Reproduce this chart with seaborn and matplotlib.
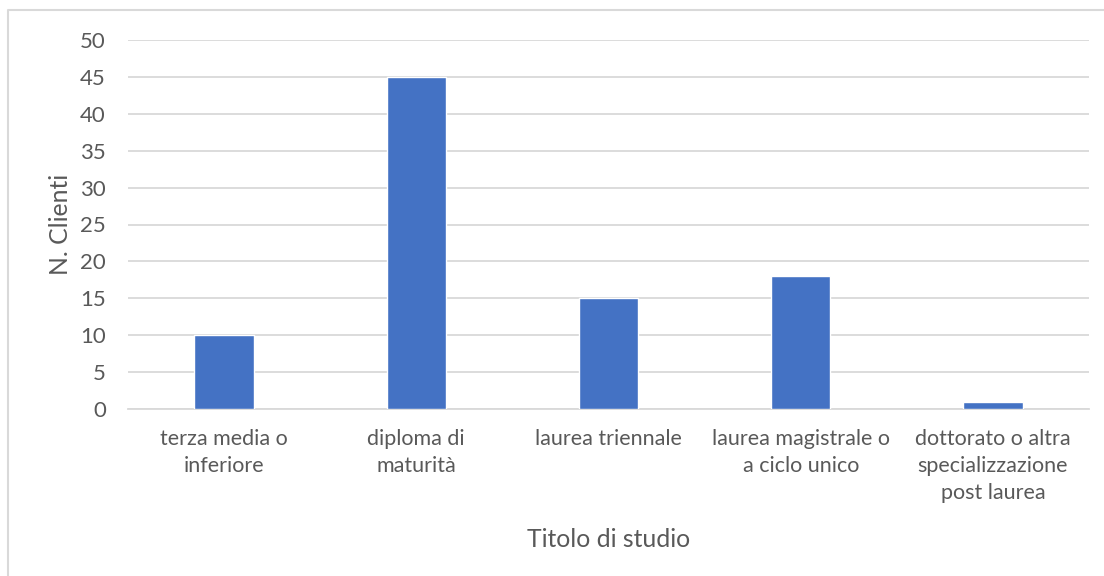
import matplotlib
matplotlib.use("Agg")
import matplotlib.pyplot as plt
import seaborn as sns
import pandas as pd
from matplotlib.lines import Line2D

# Education level of customers
categories = [
    "terza media o\ninferiore",
    "diploma di\nmaturità",
    "laurea triennale",
    "laurea magistrale o\na ciclo unico",
    "dottorato o altra\nspecializzazione\npost laurea",
]
clienti = [10, 45, 15, 18, 1]
y_ticks = [0, 5, 10, 15, 20, 25, 30, 35, 40, 45, 50]

df = pd.DataFrame({"titolo": categories, "clienti": clienti})

sns.set_theme(style="white")
plt.rcParams["font.family"] = ["Lato", "DejaVu Sans"]

text_color = "#595959"
grid_color = "#D9D9D9"
bar_color = "#4472C4"

fig = plt.figure(figsize=(11.04, 5.76), dpi=100)
ax = fig.add_axes([128 / 1104, 1 - 409 / 576, 961 / 1104, 369 / 576])

sns.barplot(data=df, x="titolo", y="clienti", color=bar_color,
            width=0.31, saturation=1, ax=ax, zorder=3)

ax.set_ylim(0, 50)
ax.set_yticks(y_ticks)
ax.set_xlim(-0.5, len(categories) - 0.5)
ax.yaxis.grid(True, color=grid_color, linewidth=1.3, zorder=0)
ax.set_axisbelow(True)
for side in ["top", "right", "left"]:
    ax.spines[side].set_visible(False)
ax.spines["bottom"].set_color(grid_color)
ax.spines["bottom"].set_linewidth(1.3)
ax.tick_params(axis="x", length=0, labelsize=15.5, colors=text_color, pad=14.5)
ax.tick_params(axis="y", length=0, labelsize=16, colors=text_color, pad=16)
for lbl in ax.get_xticklabels():
    lbl.set_linespacing(1.42)
    lbl.set_verticalalignment("top")

ax.set_xlabel("Titolo di studio", fontsize=17.8, color=text_color)
ax.set_ylabel("N. Clienti", fontsize=17.8, color=text_color)
ax.xaxis.set_label_coords(0.5, -0.322)
ax.yaxis.set_label_coords(-0.058, 0.5)

# light border along the top and left edges of the chart area
fig.lines.append(Line2D([8 / 1104, 8 / 1104, 1.0], [0.0, 1 - 10 / 576, 1 - 10 / 576],
                        transform=fig.transFigure, color=grid_color, linewidth=1.5))

fig.savefig("out.png", dpi=100)
